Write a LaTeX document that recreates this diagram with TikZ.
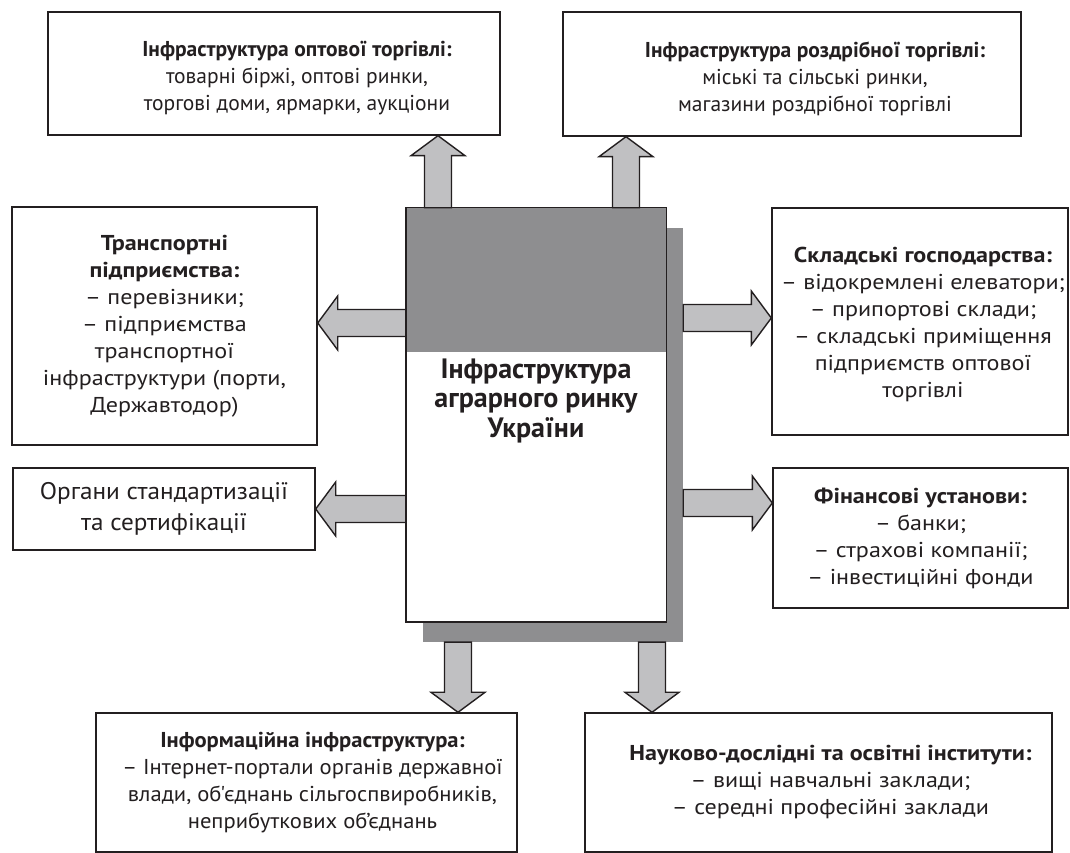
\documentclass[tikz,border=0pt]{standalone}
\usepackage{fontspec}
\setmainfont{PT Sans}
\newfontfamily\widesans[FakeStretch=1.12]{PT Sans}
\newfontfamily\midsans[FakeStretch=1.05]{PT Sans}
\usetikzlibrary{calc}
\definecolor{bandgray}{HTML}{8E8E90}
\definecolor{arrowgray}{HTML}{C0C0C2}
\definecolor{inkblack}{HTML}{231F20}

\newcommand\fatarrow[2]{%
  \coordinate (fb) at ($(#2)!20pt!(#1)$);
  \draw[fatline] ($(#1)!13.5pt!90:(#2)$) -- ($(fb)!13.5pt!90:(#2)$)
    -- ($(fb)!27pt!90:(#2)$) -- (#2) -- ($(fb)!27pt!-90:(#2)$)
    -- ($(fb)!13.5pt!-90:(#2)$) -- ($(#1)!13.5pt!-90:(#2)$) -- cycle;}

\begin{document}
\begin{tikzpicture}[x=1pt,y=1pt,
    frame/.style={draw=inkblack, line width=1.4pt, fill=white, inner sep=0pt},
    box/.style={frame, align=center, text=inkblack, font=#1\fontsize{21.5}{27}\selectfont},
    box/.default=\rmfamily,
    boxtext/.style={align=center, text=inkblack, inner sep=0pt, font=#1\fontsize{21.5}{27}\selectfont},
    boxtext/.default=\rmfamily,
    fatline/.style={draw=inkblack, fill=arrowgray, line width=1.4pt, line join=miter},
    hubtext/.style={align=center, text=inkblack, font=\bfseries\fontsize{28}{29.5}\selectfont}]
  \useasboundingbox (0,0) rectangle (1070,853);

  \node[frame, minimum width=452, minimum height=123] (wholesale) at (274,779.5) {};
  \node[boxtext] (wholesaletext) at ([shift={(23,-5)}]wholesale.center)
    {\textbf{Інфраструктура оптової торгівлі:}\\товарні біржі, оптові ринки,\\торгові доми, ярмарки, аукціони};
  \node[frame, minimum width=458, minimum height=124] (retail) at (792,779) {};
  \node[boxtext] (retailtext) at ([shift={(23,-5)}]retail.center)
    {\textbf{Інфраструктура роздрібної торгівлі:}\\міські та сільські ринки,\\магазини роздрібної торгівлі};
  \node[box=\widesans, minimum width=305, minimum height=238] (transport) at (164.5,527)
    {\textbf{Транспортні}\\\textbf{підприємства:}\\– перевізники;\\– підприємства\\транспортної\\інфраструктури (порти,\\Державтодор)};
  \node[box=\midsans, font=\midsans\fontsize{24}{31}\selectfont, minimum width=302, minimum height=82] (standards) at (164,344)
    {Органи стандартизації\\та сертифікації};
  \node[frame, minimum width=296, minimum height=227] (warehouse) at (920,531.5) {};
  \node[boxtext=\widesans] (warehousetext) at ([shift={(3,-3)}]warehouse.center)
    {\textbf{Складські господарства:}\\– відокремлені елеватори;\\– припортові склади;\\– складські приміщення\\підприємств оптової\\торгівлі};
  \node[box=\widesans, minimum width=295, minimum height=140] (finance) at (920.5,315)
    {\textbf{Фінансові установи:}\\– банки;\\– страхові компанії;\\– інвестиційні фонди};
  \node[frame, minimum width=421, minimum height=139] (info) at (306.5,70.5) {};
  \node[boxtext=\midsans] (infotext) at ([xshift=6]info.center)
    {\textbf{Інформаційна інфраструктура:}\\– Інтернет-портали органів державної\\влади, об'єднань сільгоспвиробників,\\неприбуткових об’єднань};
  \node[frame, minimum width=467, minimum height=139] (science) at (818.5,70.5) {};
  \node[boxtext=\widesans] (sciencetext) at ([xshift=12]science.center)
    {\textbf{Науково-дослідні та освітні інститути:}\\– вищі навчальні заклади;\\– середні професійні заклади};

  \node[fill=bandgray, minimum width=260, minimum height=414, inner sep=0pt] (hubshadow) at (553,418) {};
  \node[fill=white, minimum width=260, minimum height=414, inner sep=0pt] (hub) at (536,438) {};
  \fill[bandgray] (hub.north west) rectangle ($(hub.north east)+(0,-144)$);
  \draw[inkblack, line width=1.4pt] (hub.north west) rectangle (hub.south east);
  \node[hubtext] (hubtitle) at (536,452) {Інфраструктура\\аграрного ринку\\України};

  \fatarrow{438,0 |- hub.north}{438,0 |- wholesale.south}
  \fatarrow{626,0 |- hub.north}{626,0 |- retail.south}
  \fatarrow{hub.west |- 0,530}{transport.east |- 0,530}
  \fatarrow{hub.west |- 0,344}{standards.east |- 0,344}
  \fatarrow{hubshadow.east |- 0,535}{warehouse.west |- 0,535}
  \fatarrow{hubshadow.east |- 0,350}{finance.west |- 0,350}
  \fatarrow{458,0 |- hubshadow.south}{458,0 |- info.north}
  \fatarrow{652,0 |- hubshadow.south}{652,0 |- science.north}
\end{tikzpicture}
\end{document}
